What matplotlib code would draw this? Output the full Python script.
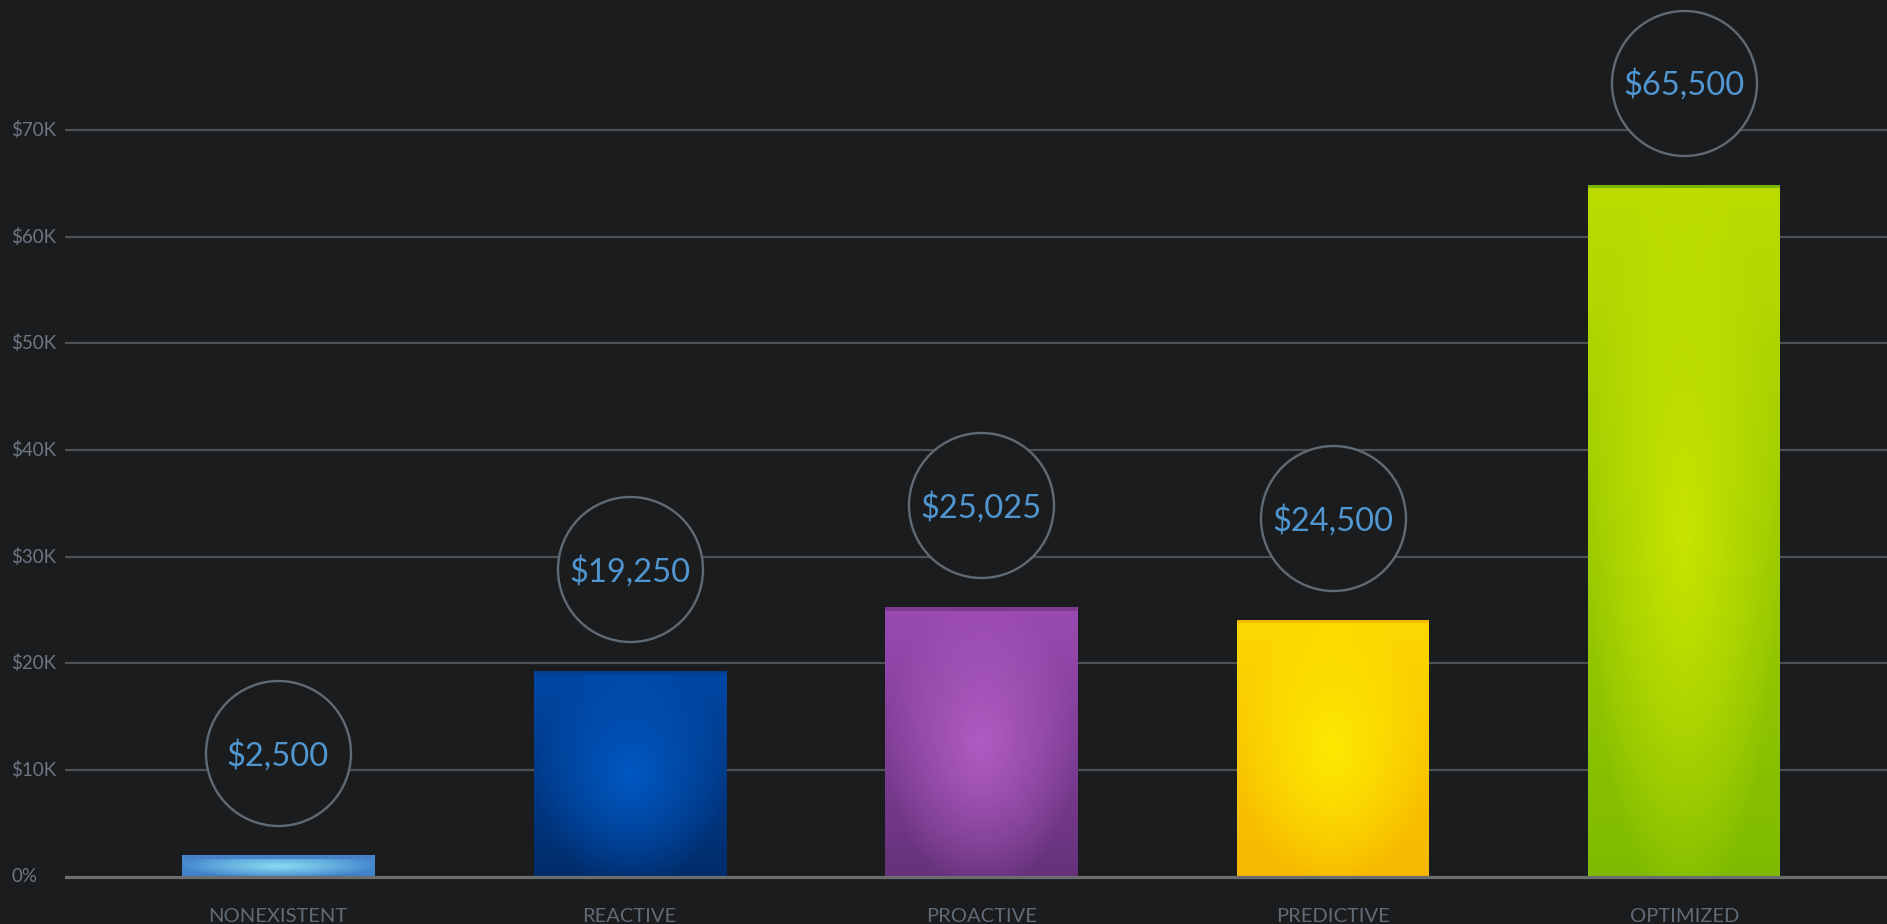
import numpy as np
import matplotlib
matplotlib.use("Agg")
import matplotlib.pyplot as plt
from matplotlib.transforms import offset_copy, blended_transform_factory
from matplotlib.colors import to_rgb

# ---- data ----
categories = ["NONEXISTENT", "REACTIVE", "PROACTIVE", "PREDICTIVE", "OPTIMIZED"]
bar_values = [2000, 19250, 25250, 24050, 64850]        # bar heights
label_values = [2500, 19250, 25025, 24500, 65500]      # numbers printed in the circles
y_ticks = [0, 10000, 20000, 30000, 40000, 50000, 60000, 70000]
y_tick_labels = ["0%", "$10K", "$20K", "$30K", "$40K", "$50K", "$60K", "$70K"]

# gradient colours per bar: (centre, top, bottom, top strip)
bar_colors = [
    ("#8adcf2", "#4a8ed2", "#3f7fca", "#4682c8"),
    ("#0058c2", "#0048a6", "#002c6a", "#003f94"),
    ("#b05cc2", "#9a4ab2", "#65327a", "#7c3b8e"),
    ("#fde900", "#fcd800", "#f6b700", "#f6b800"),
    ("#c8e400", "#bcdc00", "#7fbb00", "#78b400"),
]

BG = "#1b1c1e"
GRID = "#4e5154"
BASE = "#6c6d6e"
FONT = "Lato"

W, H, DPI = 1887, 924, 100
fig = plt.figure(figsize=(W / DPI, H / DPI), dpi=DPI, facecolor=BG)
left_px = 65
ax = fig.add_axes([left_px / W, 0, 1 - left_px / W, 1])
ax.set_facecolor(BG)

px_per_10k = 106.67
zero_px = 876.7  # from top
ymin = -(H - zero_px) / px_per_10k * 10000
ymax = zero_px / px_per_10k * 10000
ax.set_ylim(ymin, ymax)

centers_px = 278.0
spacing_px = 351.6
x = np.arange(len(categories))
ax.set_xlim((left_px - centers_px) / spacing_px, (W - centers_px) / spacing_px)
bar_w = 192 / spacing_px

for s in ax.spines.values():
    s.set_visible(False)
ax.set_xticks([])
ax.set_yticks([])

# gridlines
for t in y_ticks[1:]:
    ax.axhline(t, color=GRID, lw=1.6, zorder=1)
ax.axhline(0, color=BASE, lw=2.3, zorder=4)

# bars with gradients
bars = ax.bar(x, bar_values, width=bar_w, color=[c[1] for c in bar_colors], zorder=2, linewidth=0)
n = 240
u = np.linspace(0, 1, n)[None, :]
v = np.linspace(1, 0, n)[:, None]  # 1 at top row
strip_units = 3.2 / px_per_10k * 10000
for b, xi, h, (cc, ct, cb, cs) in zip(bars, x, bar_values, bar_colors):
    c_c, c_t, c_b = np.array(to_rgb(cc)), np.array(to_rgb(ct)), np.array(to_rgb(cb))
    base = c_b[None, None, :] + (c_t - c_b)[None, None, :] * v[..., None]
    base = np.broadcast_to(base, (n, n, 3))
    r = np.sqrt(((u - 0.5) / 0.5) ** 2 + ((v - 0.5) / 0.55) ** 2)
    wgt = np.clip(1 - r, 0, 1) ** 0.9
    img = base * (1 - wgt[..., None]) + c_c[None, None, :] * wgt[..., None]
    im = ax.imshow(img, extent=[xi - bar_w / 2, xi + bar_w / 2, 0, h], aspect="auto",
                   interpolation="bilinear", zorder=2.1)
    im.set_clip_path(b)
    ax.bar(xi, strip_units, bottom=h - strip_units, width=bar_w, color=cs, zorder=2.2, linewidth=0)

# circles with value labels, 102 px above the bar tops
circ_tr = offset_copy(ax.transData, fig=fig, x=0, y=102, units="dots")
for xi, h, lv in zip(x, bar_values, label_values):
    ax.plot([xi], [h], marker="o", ms=145 * 72 / DPI, mfc=BG, mec="#5f6a73",
            mew=2.4 * 72 / DPI, transform=circ_tr, zorder=5, clip_on=False)
    ax.text(xi, h, f"${lv:,}", transform=offset_copy(ax.transData, fig=fig, x=0, y=100, units="dots"),
            ha="center", va="center", fontsize=23.5, color="#5096d0", family=FONT, zorder=6)

# y labels (left aligned)
ytr = blended_transform_factory(fig.transFigure, ax.transData)
for t, lab in zip(y_ticks, y_tick_labels):
    ax.text(11 / W, t, lab, transform=ytr, ha="left", va="center", fontsize=13.5,
            color="#6b7883", family=FONT, clip_on=False)

# x labels
xtr = blended_transform_factory(ax.transData, fig.transFigure)
for xi, cat in zip(x, categories):
    ax.text(xi, (H - 921.5) / H, cat, transform=xtr, ha="center", va="baseline",
            fontsize=14.5, color="#5f6b75", family=FONT, clip_on=False)

fig.savefig("out.png", dpi=DPI, facecolor=BG)
